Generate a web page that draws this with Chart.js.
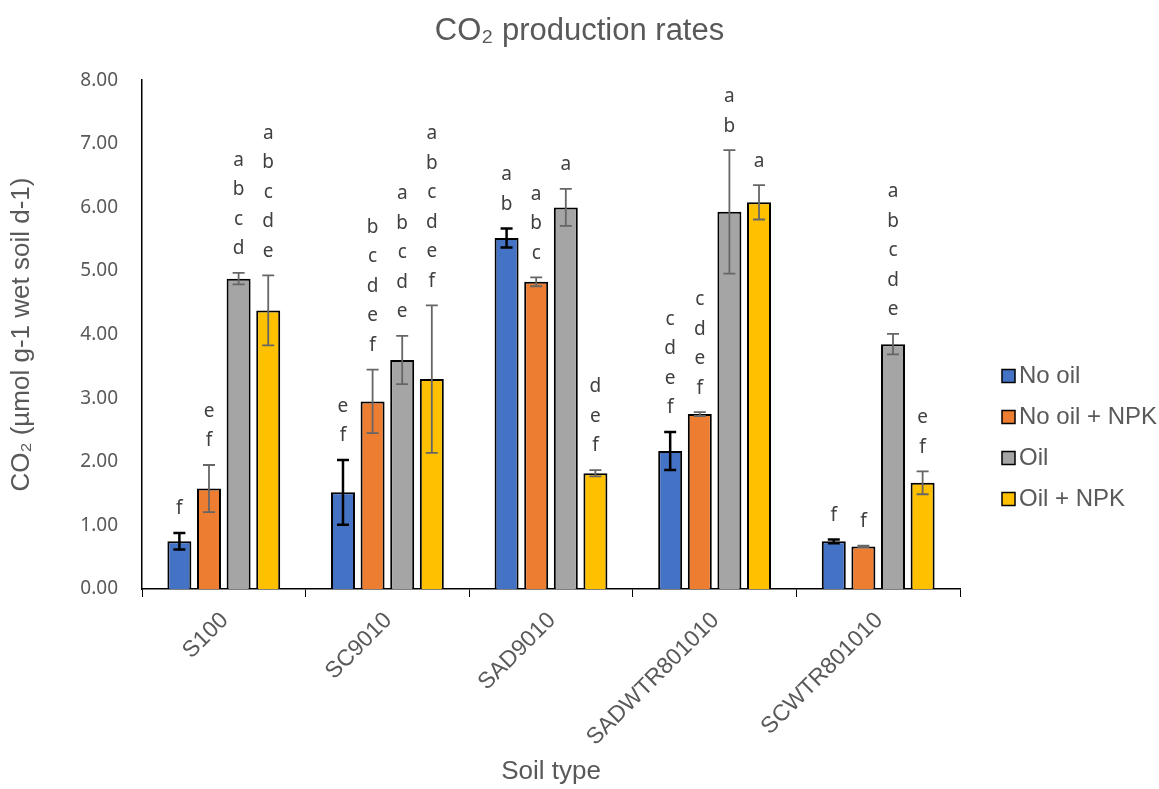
<!DOCTYPE html>
<html>
<head>
<meta charset="utf-8">
<script src="https://cdn.jsdelivr.net/npm/chart.js@4.4.0/dist/chart.umd.min.js"></script>
<style>
html, body { margin: 0; padding: 0; background: #fff; }
#wrap { width: 1159px; height: 789px; position: relative; }
</style>
</head>
<body>
<div id="wrap"><canvas id="co2Chart"></canvas></div>
<script>
// soil types and treatments
const soilTypes = ['S100', 'SC9010', 'SAD9010', 'SADWTR801010', 'SCWTR801010'];
const treatments = ['No oil', 'No oil + NPK', 'Oil', 'Oil + NPK'];

// mean CO2 rates per treatment (one value per soil type)
const noOil    = [0.75, 1.52, 5.52, 2.17, 0.75];
const noOilNpk = [1.58, 2.95, 4.83, 2.75, 0.67];
const oil      = [4.88, 3.60, 6.00, 5.93, 3.85];
const oilNpk   = [4.38, 3.30, 1.82, 6.08, 1.67];

// error bar half widths
const noOilErr    = [0.13, 0.51, 0.15, 0.30, 0.03];
const noOilNpkErr = [0.37, 0.50, 0.07, 0.03, 0.01];
const oilErr      = [0.09, 0.38, 0.29, 0.97, 0.16];
const oilNpkErr   = [0.55, 1.16, 0.05, 0.27, 0.18];

// significance letters
const noOilLetters    = ['f', 'ef', 'ab', 'cdef', 'f'];
const noOilNpkLetters = ['ef', 'bcdef', 'abc', 'cdef', 'f'];
const oilLetters      = ['abcd', 'abcde', 'a', 'ab', 'abcde'];
const oilNpkLetters   = ['abcde', 'abcdef', 'def', 'a', 'ef'];

const yTicks = [0, 1, 2, 3, 4, 5, 6, 7, 8];

const colors = ['#4472C4', '#ED7D31', '#A5A5A5', '#FFC000'];
const values = [noOil, noOilNpk, oil, oilNpk];
const errors = [noOilErr, noOilNpkErr, oilErr, oilNpkErr];
const letters = [noOilLetters, noOilNpkLetters, oilLetters, oilNpkLetters];

const textGray = '#595959';
const arial = '"Liberation Sans", Arial, sans-serif';
const sans = '"Noto Sans", "Open Sans", sans-serif';

// error bars + letters above them
const annotatePlugin = {
    id: 'annotate',
    afterDatasetsDraw(chart) {
        const ctx = chart.ctx;
        const y = chart.scales.y;
        chart.data.datasets.forEach((ds, di) => {
            const meta = chart.getDatasetMeta(di);
            meta.data.forEach((bar, i) => {
                const v = ds.data[i];
                const e = ds.errs[i];
                const top = y.getPixelForValue(v + e);
                const bot = y.getPixelForValue(v - e);
                const x = bar.x;
                ctx.save();
                ctx.strokeStyle = di === 0 ? '#000' : '#666';
                ctx.lineWidth = di === 0 ? 2.5 : 1.8;
                ctx.beginPath();
                ctx.moveTo(x, top); ctx.lineTo(x, bot);
                ctx.moveTo(x - 6, top); ctx.lineTo(x + 6, top);
                ctx.moveTo(x - 6, bot); ctx.lineTo(x + 6, bot);
                ctx.stroke();

                const chars = ds.letters[i].split('');
                ctx.fillStyle = '#404040';
                ctx.font = '19px ' + sans;
                ctx.textAlign = 'center';
                ctx.textBaseline = 'middle';
                chars.slice().reverse().forEach((c, k) => {
                    ctx.fillText(c, x, top - 24 - k * 29.5);
                });
                ctx.restore();
            });
        });
    }
};

// legend drawn to the right of the plot
const sideLegend = {
    id: 'sideLegend',
    afterDraw(chart) {
        const ctx = chart.ctx;
        ctx.save();
        ctx.font = '24px ' + arial;
        ctx.textBaseline = 'middle';
        ctx.textAlign = 'left';
        chart.data.datasets.forEach((ds, i) => {
            const cy = 376 + i * 41;
            ctx.fillStyle = ds.backgroundColor;
            ctx.fillRect(1002, cy - 6.5, 13, 13);
            ctx.strokeStyle = '#000';
            ctx.lineWidth = 1.5;
            ctx.strokeRect(1002, cy - 6.5, 13, 13);
            ctx.fillStyle = textGray;
            ctx.fillText(ds.label, 1019, cy);
        });
        ctx.restore();
    }
};

const datasets = treatments.map((name, i) => ({
    label: name,
    data: values[i],
    errs: errors[i],
    letters: letters[i],
    backgroundColor: colors[i],
    borderColor: '#000',
    borderWidth: 2,
    categoryPercentage: 0.724,
    barPercentage: 0.81
}));

new Chart(document.getElementById('co2Chart'), {
    type: 'bar',
    data: { labels: soilTypes, datasets },
    plugins: [annotatePlugin, sideLegend],
    options: {
        responsive: true,
        maintainAspectRatio: false,
        animation: false,
        layout: { padding: 0 },
        plugins: {
            legend: { display: false },
            tooltip: { enabled: false },
            title: {
                display: true,
                text: 'CO₂ production rates',
                color: textGray,
                font: { family: arial, size: 31, weight: 'normal' },
                padding: { top: 13, bottom: 30 }
            }
        },
        scales: {
            x: {
                grid: { drawOnChartArea: false, drawTicks: true, tickLength: 8, color: '#000', offset: true },
                border: { display: true, color: '#000', width: 1.5 },
                ticks: {
                    color: textGray,
                    font: { family: arial, size: 23 },
                    minRotation: 45, maxRotation: 45,
                    labelOffset: 1,
                    padding: 10
                },
                title: {
                    display: true,
                    text: 'Soil type',
                    color: textGray,
                    font: { family: arial, size: 26 },
                    padding: { top: 0, bottom: 2 }
                },
                afterFit(scale) { scale.height = 200; }
            },
            y: {
                min: 0,
                max: 8,
                afterBuildTicks(scale) { scale.ticks = yTicks.map(v => ({ value: v })); },
                grid: { display: false, drawTicks: false },
                border: { display: true, color: '#000', width: 1.5 },
                ticks: {
                    color: textGray,
                    font: { family: sans, size: 19 },
                    padding: 24,
                    callback: v => Number(v).toFixed(2)
                },
                title: {
                    display: true,
                    text: 'CO₂ (µmol g-1 wet soil d-1)',
                    color: textGray,
                    font: { family: arial, size: 26 },
                    padding: { top: 6, bottom: 0 }
                },
                afterFit(scale) { scale.width = 142; }
            },
            // empty right axis that only reserves room for the legend
            legendSpace: {
                type: 'linear',
                position: 'right',
                grid: { display: false },
                border: { display: false },
                ticks: { display: false },
                afterFit(scale) { scale.width = 199; }
            }
        }
    }
});
</script>
</body>
</html>
